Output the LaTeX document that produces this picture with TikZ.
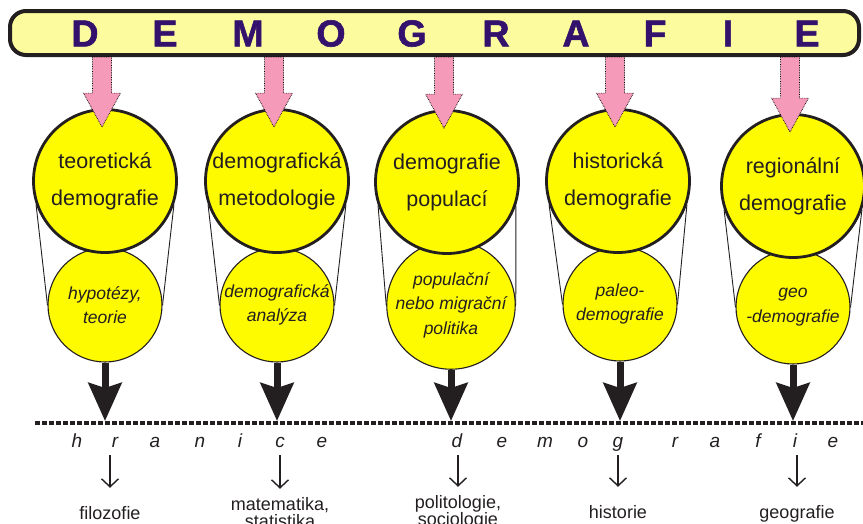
\documentclass[tikz,border=0pt]{standalone}
\usepackage{fontspec}
\setmainfont{Liberation Sans}
\newfontfamily\bannerfont{Liberation Sans}[BoldFeatures={FakeBold=1.5}]
\usetikzlibrary{arrows.meta,calc}

\definecolor{bannerfill}{HTML}{FCFC9E}
\definecolor{lettercol}{HTML}{33116C}
\definecolor{pinkfill}{HTML}{F59AB8}
\definecolor{circfill}{HTML}{FEFA00}
\definecolor{inkcol}{HTML}{231F20}

\tikzset{
  banner/.style={rectangle, rounded corners=16pt, draw=inkcol, line width=4pt, fill=bannerfill,
    minimum width=849pt, minimum height=44pt, inner sep=0pt},
  bigletter/.style={text=lettercol, font=\bannerfont\bfseries\fontsize{37.5}{40}\selectfont, inner sep=0pt},
  bigcirc/.style={circle, draw=inkcol, line width=2.8pt, fill=circfill, minimum size=143pt,
    inner sep=0pt, align=center, text=inkcol, font=\fontsize{21.5}{37}\selectfont},
  smallcirc/.style={circle, draw=inkcol, line width=1.1pt, fill=circfill, minimum size=114pt,
    inner sep=0pt, align=center, text=inkcol, font=\itshape\fontsize{17.5}{24.5}\selectfont},
  cone/.style={draw=inkcol, line width=0.9pt},
  pinkarrow/.style={draw=black, densely dotted, line width=0.7pt, fill=pinkfill,
    to path={let \p1=(\tikztostart), \p2=(\tikztotarget) in
      (\x2-9.5pt,\y1) -- (\x2+9.5pt,\y1) -- (\x2+9.5pt,\y2+34pt) -- (\x2+18.5pt,\y2+34pt)
      -- (\x2,\y2) -- (\x2-18.5pt,\y2+34pt) -- (\x2-9.5pt,\y2+34pt) -- cycle}},
  fatarrow/.style={draw=inkcol, line width=7pt, shorten >=2pt,
    -{Stealth[length=38pt,width=33pt,inset=5pt]}},
  borderline/.style={draw=inkcol, line width=3.5pt, dash pattern=on 5pt off 2pt},
  lettr/.style={text=inkcol, font=\itshape\fontsize{19}{19}\selectfont, anchor=base,
    inner sep=1pt, text height=13pt, text depth=4pt},
  field/.style={text=inkcol, font=\fontsize{18}{17}\selectfont, align=center, anchor=base, inner sep=0pt},
  thinarrow/.style={draw=inkcol, line width=1.4pt, shorten <=3pt, -{Straight Barb[length=8pt,width=17pt]}}
}

\begin{document}
\begin{tikzpicture}[x=1pt,y=-1pt]
\useasboundingbox (0,0) rectangle (863,523);

% banner
\node[banner] (banner) at (434.5,33) {};
\foreach \ch/\xx [count=\n] in {D/85,E/165,M/248,O/331,G/412,R/496,A/576,F/655,I/728,E/807}
  \node[bigletter] (L\n) at (\xx,33.5) {\ch};

% lower circles first, upper ones overlap them
\node[smallcirc] (s1) at (105,305) {hypotézy,\\teorie};
\node[smallcirc] (s2) at (277,305) {demografická\\analýza};
\node[smallcirc] (s3) at (451,305) {populační\\nebo migrační\\politika};
\node[smallcirc] (s4) at (620,304) {paleo-\\demografie};
\node[smallcirc] (s5) at (793,307) {geo\\-demografie};

\node[bigcirc] (t1) at (105,181) {teoretická\\demografie};
\node[bigcirc] (t2) at (277,181) {demografická\\metodologie};
\node[bigcirc] (t3) at (447,182) {demografie\\populací};
\node[bigcirc] (t4) at (618,181) {historická\\demografie};
\node[bigcirc] (t5) at (793,186) {regionální\\demografie};

\foreach \n in {1,...,5} {
  \draw[cone] (t\n.199) -- (s\n.west);
  \draw[cone] (t\n.-19) -- (s\n.east);
  \draw[pinkarrow] (banner.south -| t\n.north) to ([xshift=-3pt,yshift=-19pt]t\n.north);
}

% border line
\coordinate (hl) at (35,423);
\coordinate (hr) at (866,423);
\foreach \n in {1,...,5}
  \draw[fatarrow] (s\n.south) -- (s\n.south |- hl);
\draw[borderline] (hl) -- (hr);

\foreach \ch/\xx [count=\n] in {h/77,r/115,a/155,n/200,i/240,c/280,e/322,d/457,e/502,m/545,o/583,g/618,r/675,a/715,f/758,i/795,e/833}
  \node[lettr] (h\n) at (\xx,447) {\ch};

\node[field] (f1) at (110,519) {filozofie};
\node[field] (f2) at (280,527) {matematika,\\statistika};
\node[field] (f3) at (458,525) {politologie,\\sociologie};
\node[field] (f4) at (618,518) {historie};
\node[field] (f5) at (797,518) {geografie};

\foreach \a/\b/\s in {2/1/18,6/2/8,8/3/8,12/4/18,16/5/18}
  \draw[thinarrow, shorten >=\s pt] (h\a.south -| f\b.north) -- (f\b.north);
\end{tikzpicture}
\end{document}
